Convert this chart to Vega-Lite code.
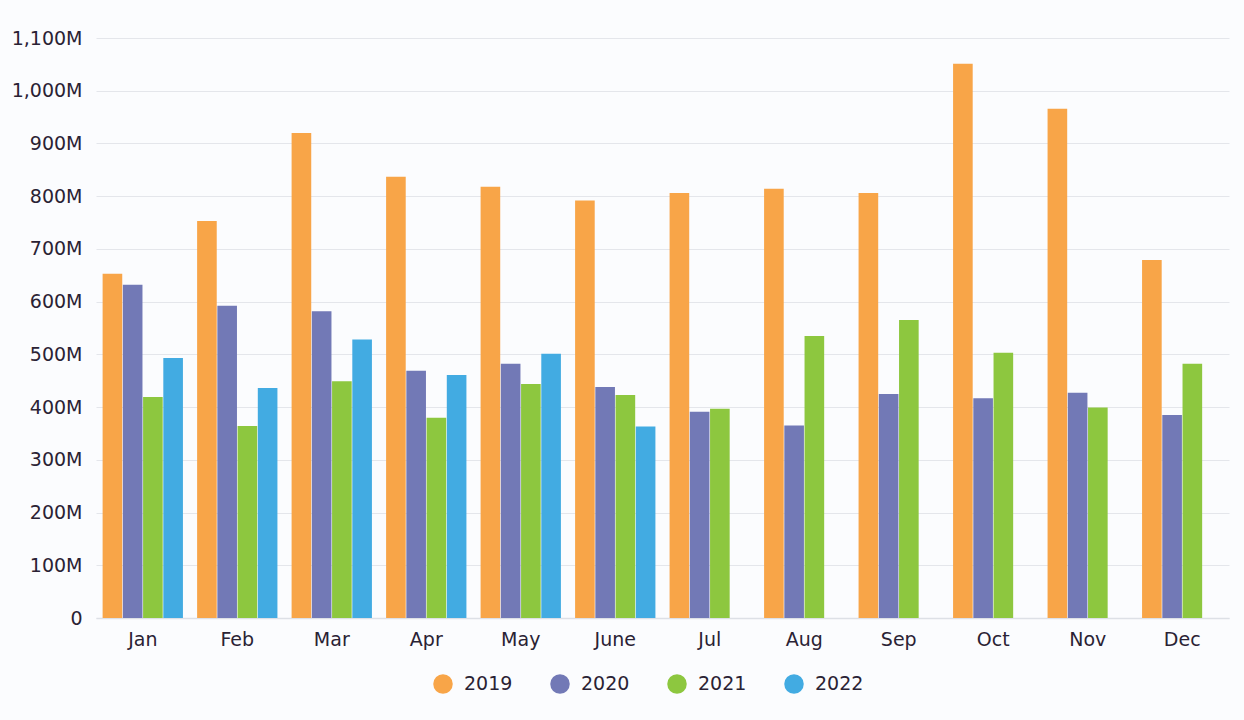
{
  "$schema": "https://vega.github.io/schema/vega-lite/v6.json",
  "width": 1133,
  "height": 580,
  "autosize": {"type": "none"},
  "padding": {"left": 96, "top": 38, "right": 15, "bottom": 102},
  "background": "#FBFCFE",
  "config": {
    "view": {"stroke": null},
    "font": "DejaVu Sans",
    "axis": {"labelFont": "DejaVu Sans", "labelColor": "#2A2234", "labelFontWeight": "normal"},
    "legend": {"labelFont": "DejaVu Sans", "labelColor": "#2A2234", "labelFontWeight": "normal"}
  },
  "data": {
    "values": [
      {"month": "Jan", "year": "2019", "value": 653},
      {"month": "Jan", "year": "2020", "value": 632},
      {"month": "Jan", "year": "2021", "value": 419},
      {"month": "Jan", "year": "2022", "value": 493},
      {"month": "Feb", "year": "2019", "value": 753},
      {"month": "Feb", "year": "2020", "value": 592},
      {"month": "Feb", "year": "2021", "value": 364},
      {"month": "Feb", "year": "2022", "value": 436},
      {"month": "Mar", "year": "2019", "value": 920},
      {"month": "Mar", "year": "2020", "value": 582},
      {"month": "Mar", "year": "2021", "value": 449},
      {"month": "Mar", "year": "2022", "value": 528},
      {"month": "Apr", "year": "2019", "value": 837},
      {"month": "Apr", "year": "2020", "value": 469},
      {"month": "Apr", "year": "2021", "value": 380},
      {"month": "Apr", "year": "2022", "value": 461},
      {"month": "May", "year": "2019", "value": 818},
      {"month": "May", "year": "2020", "value": 482},
      {"month": "May", "year": "2021", "value": 444},
      {"month": "May", "year": "2022", "value": 501},
      {"month": "June", "year": "2019", "value": 792},
      {"month": "June", "year": "2020", "value": 438},
      {"month": "June", "year": "2021", "value": 423},
      {"month": "June", "year": "2022", "value": 363},
      {"month": "Jul", "year": "2019", "value": 806},
      {"month": "Jul", "year": "2020", "value": 391},
      {"month": "Jul", "year": "2021", "value": 397},
      {"month": "Aug", "year": "2019", "value": 814},
      {"month": "Aug", "year": "2020", "value": 365},
      {"month": "Aug", "year": "2021", "value": 535},
      {"month": "Sep", "year": "2019", "value": 806},
      {"month": "Sep", "year": "2020", "value": 425},
      {"month": "Sep", "year": "2021", "value": 565},
      {"month": "Oct", "year": "2019", "value": 1051},
      {"month": "Oct", "year": "2020", "value": 417},
      {"month": "Oct", "year": "2021", "value": 503},
      {"month": "Nov", "year": "2019", "value": 966},
      {"month": "Nov", "year": "2020", "value": 427},
      {"month": "Nov", "year": "2021", "value": 399},
      {"month": "Dec", "year": "2019", "value": 679},
      {"month": "Dec", "year": "2020", "value": 385},
      {"month": "Dec", "year": "2021", "value": 482}
    ]
  },
  "mark": {"type": "bar"},
  "encoding": {
    "x": {
      "field": "month",
      "type": "nominal",
      "sort": ["Jan", "Feb", "Mar", "Apr", "May", "June", "Jul", "Aug", "Sep", "Oct", "Nov", "Dec"],
      "scale": {"paddingInner": 0.15, "paddingOuter": 0.07},
      "axis": {
        "title": null,
        "labelAngle": 0,
        "labelFontSize": 19,
        "labelPadding": 12,
        "ticks": false,
        "domain": true,
        "domainColor": "#DDE0E6",
        "domainWidth": 1.5
      }
    },
    "xOffset": {
      "field": "year",
      "type": "nominal",
      "scale": {"paddingInner": 0.03}
    },
    "y": {
      "field": "value",
      "type": "quantitative",
      "scale": {"domain": [0, 1100], "nice": false},
      "axis": {
        "title": null,
        "values": [0, 100, 200, 300, 400, 500, 600, 700, 800, 900, 1000, 1100],
        "labelExpr": "datum.value == 0 ? '0' : format(datum.value, ',') + 'M'",
        "labelFontSize": 19,
        "labelPadding": 14,
        "ticks": false,
        "domain": false,
        "gridColor": "#E4E6EB",
        "gridWidth": 1.2
      }
    },
    "color": {
      "field": "year",
      "type": "nominal",
      "scale": {
        "domain": ["2019", "2020", "2021", "2022"],
        "range": ["#F8A548", "#7279B6", "#8DC73F", "#42ABE2"]
      },
      "legend": {
        "title": null,
        "orient": "none",
        "direction": "horizontal",
        "legendX": 337,
        "legendY": 636,
        "symbolType": "circle",
        "symbolSize": 380,
        "symbolStrokeWidth": 0,
        "labelFontSize": 19,
        "labelOffset": 11,
        "columnPadding": 37
      }
    }
  }
}
